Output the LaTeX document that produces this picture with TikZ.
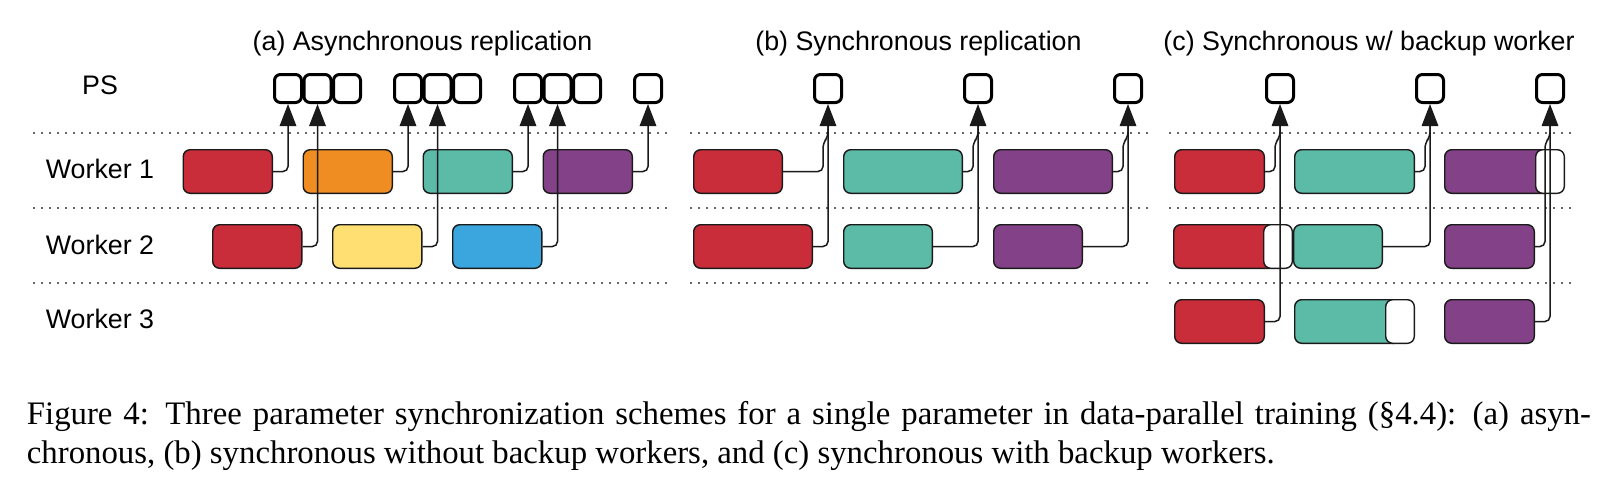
\documentclass[tikz,border=0pt]{standalone}
\usepackage{fontspec}
\setmainfont{Liberation Serif}
\newfontfamily\arialf{Liberation Sans}
\usetikzlibrary{arrows.meta,calc}
\definecolor{cred}{HTML}{C92D39}
\definecolor{corange}{HTML}{EF8D22}
\definecolor{cteal}{HTML}{5CBBA7}
\definecolor{cpurple}{HTML}{834187}
\definecolor{cyellow}{HTML}{FFDF71}
\definecolor{cblue}{HTML}{3AA6DD}
\definecolor{edge}{HTML}{1A1A1A}
\newcommand{\tbox}[5]{\node[task, fill=#2, minimum width={(#4)-(#3)-1.4}] (#1) at ({((#3)+(#4))/2}, #5) {};}
\newcommand{\psb}[2]{\node[psbox] (#1) at (#2, 88.5) {};}
\begin{document}
\begin{tikzpicture}[x=1pt,y=-1pt,
  lbl/.style={inner sep=0pt, font=\arialf\fontsize{26.8pt}{32pt}\selectfont},
  capt/.style={inner sep=0pt, font=\fontsize{32.8pt}{39pt}\selectfont},
  task/.style={draw=edge, line width=1.4pt, rounded corners=7pt, minimum height=43.6pt, inner sep=0pt, outer sep=0.7pt},
  psbox/.style={draw=black, fill=white, line width=3pt, rounded corners=6pt, minimum width=27pt, minimum height=28pt, inner sep=0pt, outer sep=1.5pt},
  sepline/.style={draw=black!60, line width=1.8pt, dash pattern=on 1.6pt off 6.4pt},
  conn/.style={draw=edge, line width=1.5pt, rounded corners=5pt},
  tip/.style={-{Triangle[length=22pt,width=16.5pt]}}
]
\useasboundingbox (0,0) rectangle (1604,490);
\fill[white] (0,0) rectangle (1604,490);

% titles
\node[lbl, anchor=base] (ta) at (422.5,50) {(a) Asynchronous replication};
\node[lbl, anchor=base] (tb) at (918.5,50) {(b) Synchronous replication};
\node[lbl, anchor=base] (tc) at (1369,50) {(c) Synchronous w/ backup worker};

% row labels
\node[lbl, anchor=base] (lps) at (100,94.3) {PS};
\node[lbl, anchor=base] (lw1) at (100,178.5) {Worker 1};
\node[lbl, anchor=base] (lw2) at (100,254) {Worker 2};
\node[lbl, anchor=base] (lw3) at (100,328.5) {Worker 3};

% dotted separators
\foreach \y in {133,208,283} {
  \draw[sepline] (33,\y) -- (668,\y);
  \draw[sepline] (690,\y) -- (1149,\y);
  \draw[sepline] (1169,\y) -- (1576,\y);
}

% ---------- panel (a)
\tbox{a1a}{cred}{182.5}{273}{171.5}
\tbox{a1b}{corange}{302.5}{393}{171.5}
\tbox{a1c}{cteal}{422.5}{513}{171.5}
\tbox{a1d}{cpurple}{542.5}{633}{171.5}
\tbox{a2a}{cred}{212}{302.5}{246.5}
\tbox{a2b}{cyellow}{332}{422.5}{246.5}
\tbox{a2c}{cblue}{452}{542.5}{246.5}
\psb{pa1}{288}\psb{pa2}{317.5}\psb{pa3}{347}
\psb{pa4}{408}\psb{pa5}{437.5}\psb{pa6}{467}
\psb{pa7}{528}\psb{pa8}{557.5}\psb{pa9}{587}
\psb{pa10}{648}

% ---------- panel (b)
\tbox{b1a}{cred}{693}{783}{171.5}
\tbox{b1b}{cteal}{843}{963}{171.5}
\tbox{b1c}{cpurple}{993}{1113}{171.5}
\tbox{b2a}{cred}{693}{813}{246.5}
\tbox{b2b}{cteal}{843}{933}{246.5}
\tbox{b2c}{cpurple}{993}{1083}{246.5}
\psb{pb1}{828}\psb{pb2}{978}\psb{pb3}{1128}

% ---------- panel (c)
\tbox{c1a}{cred}{1174}{1265}{171.5}
\tbox{c1b}{cteal}{1294}{1415}{171.5}
\tbox{c1c}{cpurple}{1444}{1552}{171.5}
\tbox{c1w}{white}{1535}{1565}{171.5}
\tbox{c2a}{cred}{1173}{1278}{246.5}
\tbox{c2w}{white}{1263}{1293}{246.5}
\tbox{c2b}{cteal}{1293}{1383}{246.5}
\tbox{c2c}{cpurple}{1444}{1535}{246.5}
\tbox{c3a}{cred}{1174}{1265}{321.5}
\tbox{c3b}{cteal}{1294}{1402}{321.5}
\tbox{c3w}{white}{1385}{1415}{321.5}
\tbox{c3c}{cpurple}{1444}{1535}{321.5}
\psb{pc1}{1280}\psb{pc2}{1430}\psb{pc3}{1550}

% ---------- connectors (a)
\draw[conn, tip] (a1a.east) -| (pa1.south);
\draw[conn, tip] (a2a.east) -| (pa2.south);
\draw[conn, tip] (a1b.east) -| (pa4.south);
\draw[conn, tip] (a2b.east) -| (pa5.south);
\draw[conn, tip] (a1c.east) -| (pa7.south);
\draw[conn, tip] (a2c.east) -| (pa8.south);
\draw[conn, tip] (a1d.east) -| (pa10.south);

% merging connectors (b), (c)
\foreach \s/\t in {b1a/pb1, b1b/pb2, b1c/pb3, c1a/pc1, c1b/pc2, c2c/pc3} {
  \draw[conn] (\s.east) -| ($(\t.south)+(-5,39)$) -- ($(\t.south)+(0,33)$) -- ($(\t.south)+(0,15)$);
}
% direct connectors (b), (c)
\draw[conn, tip] (b2a.east) -| (pb1.south);
\draw[conn, tip] (b2b.east) -| (pb2.south);
\draw[conn, tip] (b2c.east) -| (pb3.south);
\draw[conn, tip] (c3a.east) -| (pc1.south);
\draw[conn, tip] (c2b.east) -| (pc2.south);
\draw[conn, tip] (c3c.east) -| (pc3.south);

% caption
\node[capt, anchor=base west] (cap1) at (26.7,424) {\hbox to 1564pt{Figure 4: Three parameter synchronization schemes for a single parameter in data-parallel training (§4.4): (a) asyn-}};
\node[capt, anchor=base west] (cap2) at (26.7,463) {chronous, (b) synchronous without backup workers, and (c) synchronous with backup workers.};
\end{tikzpicture}
\end{document}
